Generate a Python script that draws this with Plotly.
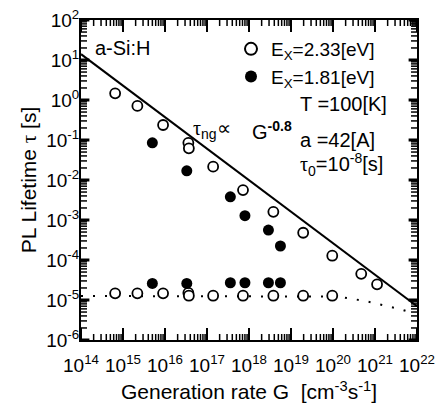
import plotly.graph_objects as go

# Photoluminescence lifetime of a-Si:H vs. generation rate
# Ex = 2.33 eV, slow component (open circles)
g_233_slow = [6.5e14, 2.2e15, 9.0e15, 3.6e16, 3.7e16, 1.4e17, 7.2e17, 3.8e18, 1.95e19, 9.6e19, 4.7e20, 1.12e21]
tau_233_slow = [1.47, 0.71, 0.237, 0.085, 0.062, 0.0215, 0.0056, 0.0016, 4.8e-4, 1.28e-4, 4.5e-5, 2.46e-5]
# Ex = 2.33 eV, fast component
g_233_fast = [6.5e14, 2.2e15, 9.0e15, 3.6e16, 3.7e16, 1.4e17, 7.2e17, 3.8e18, 1.95e19, 9.6e19]
tau_233_fast = [1.47e-5, 1.47e-5, 1.47e-5, 1.5e-5, 1.28e-5, 1.28e-5, 1.28e-5, 1.28e-5, 1.28e-5, 1.28e-5]

# Ex = 1.81 eV, slow and fast components (filled circles)
g_181_slow = [5.0e15, 3.3e16, 3.6e17, 8.0e17, 2.9e18, 5.6e18]
tau_181_slow = [0.085, 0.017, 0.0038, 0.00128, 5.6e-4, 2.24e-4]
g_181_fast = [5.0e15, 3.3e16, 3.6e17, 8.0e17, 2.9e18, 5.6e18]
tau_181_fast = [2.6e-5, 2.6e-5, 2.7e-5, 2.7e-5, 2.7e-5, 2.7e-5]

# tau_ng ~ G^-0.8 fit
g_fit = [1e14, 1e22]
tau_fit = [14.0, 7.0e-6]

# combined lifetime curve (dotted)
g_comb = [1e14, 1e19, 1e20, 1.6e20, 3.2e20, 5.6e20, 1e21, 2e21, 4e21, 8e21]
tau_comb = [1.26e-5, 1.26e-5, 1.22e-5, 1.18e-5, 1.07e-5, 9.5e-6, 8.3e-6, 7.1e-6, 5.9e-6, 4.7e-6]

x_decades = list(range(14, 23))
y_decades = list(range(-6, 3))
x_ticks = [10.0 ** e for e in x_decades]
x_text = ["10<sup>%d</sup>" % e for e in x_decades]
y_ticks = [10.0 ** e for e in y_decades]
y_text = ["10<sup>%d</sup>" % e for e in y_decades]
x_minor = [m * 10.0 ** e for e in x_decades[:-1] for m in range(2, 10)]
y_minor = [m * 10.0 ** e for e in y_decades[:-1] for m in range(2, 10)]

FONT = "Liberation Sans, Arial, sans-serif"
SERIF = "font-family:'Liberation Serif', 'DejaVu Serif', serif"
TAU = "<span style=\"%s\">τ</span>" % SERIF

W, H = 436, 414
L, R, T, B = 81, 19, 20, 74
X_RANGE = [14, 22]
Y_RANGE = [-6, 2]
PX_PER_DEC_X = (W - L - R) / (X_RANGE[1] - X_RANGE[0])
PX_PER_DEC_Y = (H - T - B) / (Y_RANGE[1] - Y_RANGE[0])


def px(x, y):
    """Pixel position inside the figure -> paper coordinates."""
    return (x - L) / (W - L - R), (H - B - y) / (H - T - B)


fig = go.Figure()

fig.add_trace(go.Scatter(x=g_fit, y=tau_fit, mode="lines",
                         line=dict(color="black", width=2), showlegend=False))
fig.add_trace(go.Scatter(x=g_comb, y=tau_comb, mode="lines",
                         line=dict(color="black", width=2, dash="2px,10px"),
                         showlegend=False))

open_marker = dict(symbol="circle", size=10, color="white",
                   line=dict(color="black", width=1.8))
filled_marker = dict(symbol="circle", size=11, color="black",
                     line=dict(color="black", width=0))

fig.add_trace(go.Scatter(x=g_233_slow, y=tau_233_slow, mode="markers",
                         marker=open_marker, name="E<sub>X</sub>=2.33[eV]"))
fig.add_trace(go.Scatter(x=g_233_fast, y=tau_233_fast, mode="markers",
                         marker=open_marker, showlegend=False))
fig.add_trace(go.Scatter(x=g_181_slow, y=tau_181_slow, mode="markers",
                         marker=filled_marker, name="E<sub>X</sub>=1.81[eV]"))
fig.add_trace(go.Scatter(x=g_181_fast, y=tau_181_fast, mode="markers",
                         marker=filled_marker, showlegend=False))


# inward tick marks on all four sides, drawn as short line-shaped markers
def x_tick_marks(vals, length, width):
    half = 10.0 ** (length / 2 / PX_PER_DEC_Y)
    lo, hi = 10.0 ** Y_RANGE[0], 10.0 ** Y_RANGE[1]
    xs = vals + vals
    ys = [lo * half] * len(vals) + [hi / half] * len(vals)
    fig.add_trace(go.Scatter(x=xs, y=ys, mode="markers", showlegend=False,
                             hoverinfo="skip",
                             marker=dict(symbol="line-ns", size=length,
                                         line=dict(color="black", width=width))))


def y_tick_marks(vals, length, width):
    half = 10.0 ** (length / 2 / PX_PER_DEC_X)
    lo, hi = 10.0 ** X_RANGE[0], 10.0 ** X_RANGE[1]
    ys = vals + vals
    xs = [lo * half] * len(vals) + [hi / half] * len(vals)
    fig.add_trace(go.Scatter(x=xs, y=ys, mode="markers", showlegend=False,
                             hoverinfo="skip",
                             marker=dict(symbol="line-ew", size=length,
                                         line=dict(color="black", width=width))))


x_tick_marks(x_ticks, 10, 2)
x_tick_marks(x_minor, 5, 1.5)
y_tick_marks(y_ticks, 7, 3)
y_tick_marks(y_minor, 5, 1.5)

notes = [
    ("a-Si:H", 93, 48),
    ("T =100[K]", 298, 104),
    ("a =42[A]", 298, 140),
    (TAU + "<sub>0</sub>=10<sup>-8</sup>[s]", 298, 164),
    (TAU + "<sub>ng</sub>∝", 191, 129),
    ("G<sup><b>-0.8</b></sup>", 250, 130),
]
for text, x0, y0 in notes:
    ax, ay = px(x0, y0)
    fig.add_annotation(text=text, x=ax, y=ay, xref="paper", yref="paper",
                       xanchor="left", yanchor="middle", showarrow=False,
                       font=dict(size=20, color="black", family=FONT))

lx, ly = px(231, 30)

fig.update_layout(
    width=W, height=H,
    margin=dict(l=L, r=R, t=T, b=B, autoexpand=False),
    paper_bgcolor="white", plot_bgcolor="white",
    font=dict(family=FONT, color="black"),
    legend=dict(x=lx, y=ly, xanchor="left", yanchor="top",
                bgcolor="rgba(0,0,0,0)", font=dict(size=19, family=FONT),
                tracegroupgap=0, itemsizing="constant"),
    xaxis=dict(type="log", range=X_RANGE, tickmode="array",
               tickvals=x_ticks, ticktext=x_text,
               showgrid=False, zeroline=False, showline=True,
               linecolor="black", linewidth=2, mirror=True, ticks="",
               ticklabelstandoff=7, automargin=False,
               tickfont=dict(size=19, color="black", family=FONT),
               title=dict(text="Generation rate G  [cm<sup>-3</sup>s<sup>-1</sup>]",
                          font=dict(size=21, family=FONT), standoff=10)),
    yaxis=dict(type="log", range=Y_RANGE, tickmode="array",
               tickvals=y_ticks, ticktext=y_text,
               showgrid=False, zeroline=False, showline=True,
               linecolor="black", linewidth=2, mirror=True, ticks="",
               ticklabelstandoff=-4, automargin=False,
               tickfont=dict(size=19, color="black", family=FONT),
               title=dict(text="PL Lifetime " + TAU + " [s]",
                          font=dict(size=21, family=FONT), standoff=4)),
)

fig.write_html("out.html")
